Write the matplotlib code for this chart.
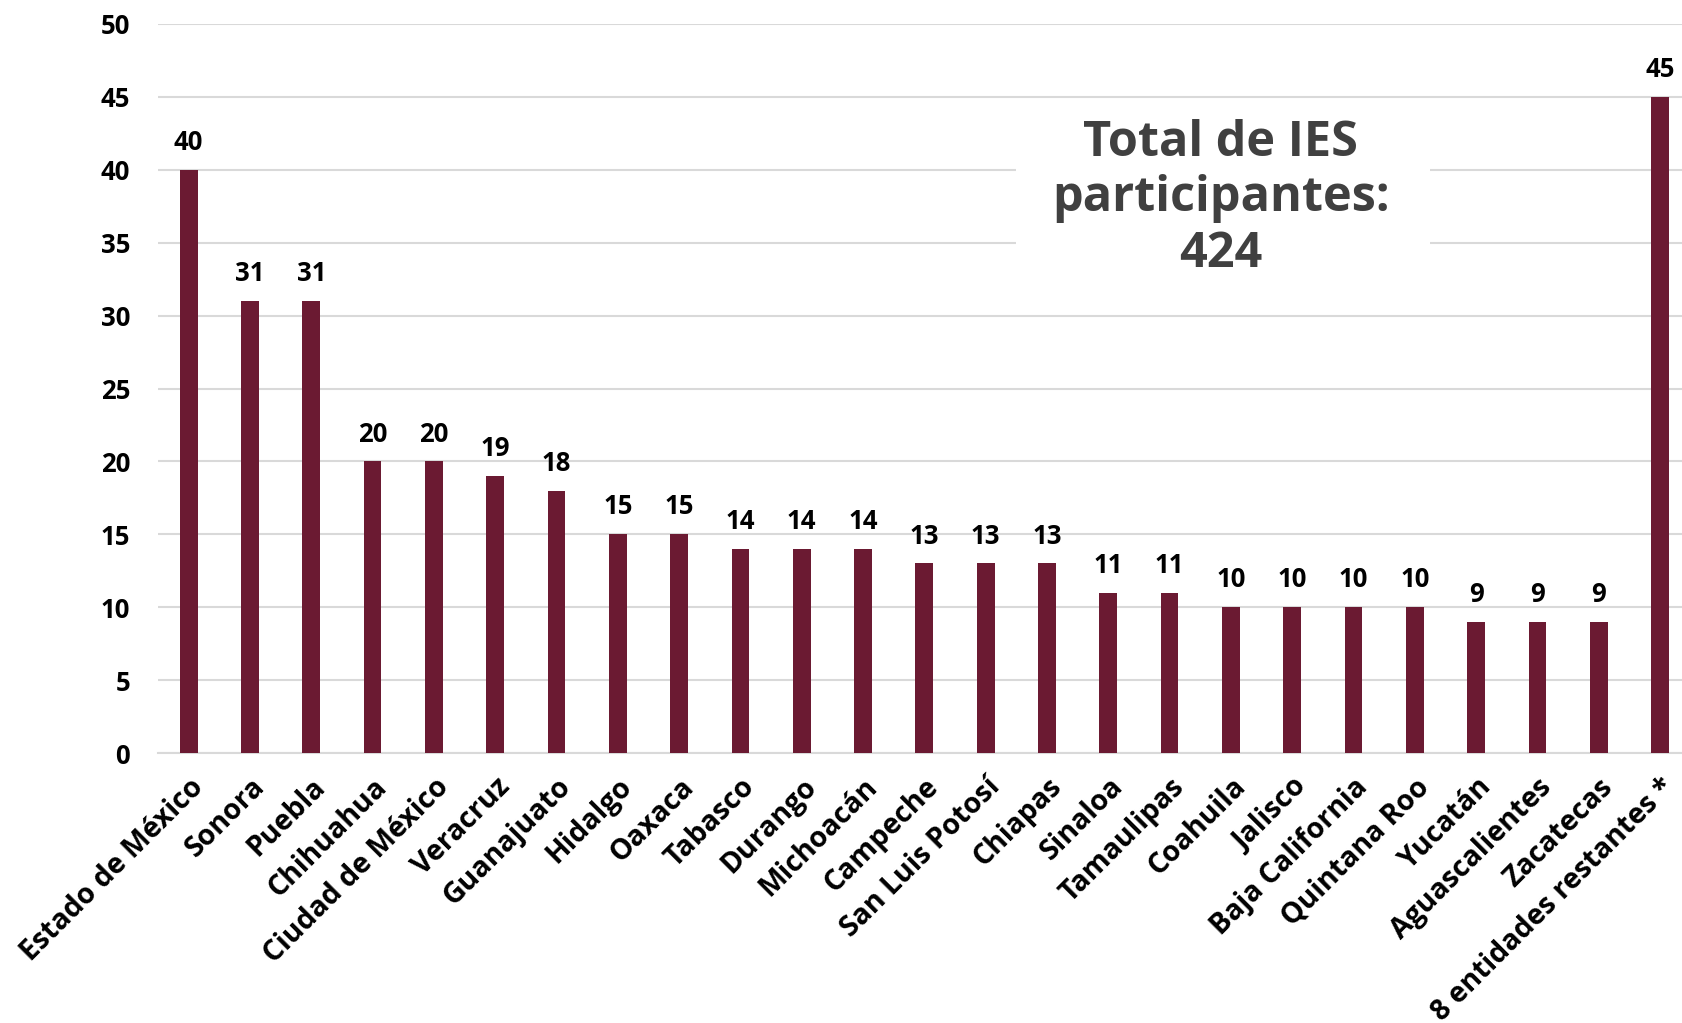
import matplotlib
matplotlib.use("Agg")
import matplotlib.pyplot as plt
from matplotlib.patches import Rectangle

estados = ["Estado de México", "Sonora", "Puebla", "Chihuahua", "Ciudad de México",
           "Veracruz", "Guanajuato", "Hidalgo", "Oaxaca", "Tabasco", "Durango",
           "Michoacán", "Campeche", "San Luis Potosí", "Chiapas", "Sinaloa",
           "Tamaulipas", "Coahuila", "Jalisco", "Baja California", "Quintana Roo",
           "Yucatán", "Aguascalientes", "Zacatecas", "8 entidades restantes *"]
valores = [40, 31, 31, 20, 20, 19, 18, 15, 15, 14, 14, 14, 13, 13, 13, 11, 11,
           10, 10, 10, 10, 9, 9, 9, 45]
yticks = [0, 5, 10, 15, 20, 25, 30, 35, 40, 45, 50]
total_text = "Total de IES\nparticipantes:\n424"

plt.rcParams['font.family'] = ['Open Sans', 'DejaVu Sans']

fig = plt.figure(figsize=(16.83, 10.23), dpi=100)
ax = fig.add_axes([158/1683, 270/1023, 1 - 158/1683, 729/1023])

x = list(range(len(estados)))
ax.bar(x, valores, width=0.29, color="#6B1A32", zorder=3)
for xi, v in zip(x, valores):
    ax.annotate(str(v), (xi, v), xytext=(0, 10), textcoords="offset points",
                ha="center", va="bottom", fontsize=18.5, fontweight="bold",
                color="black", zorder=4)

ax.set_ylim(0, 50)
ax.set_xlim(-0.5, 24.375)
ax.set_yticks(yticks)
ax.set_yticklabels([str(t) for t in yticks], fontsize=18.5, fontweight="bold")
ax.set_xticks(x)
ax.set_xticklabels(estados, rotation=45, ha="right", rotation_mode="anchor",
                   fontsize=20.5, fontweight="bold")
ax.tick_params(axis="y", length=0, pad=20)
ax.tick_params(axis="x", length=0, pad=14)
ax.yaxis.grid(True, color="#d9d9d9", linewidth=1.5, zorder=0)
ax.set_axisbelow(True)
for s in ["top", "right", "left"]:
    ax.spines[s].set_visible(False)
ax.spines["bottom"].set_color("#d9d9d9")
ax.spines["bottom"].set_linewidth(1.5)

ax.add_patch(Rectangle((0.5626, 0.621), 0.834 - 0.5626, 0.889 - 0.621,
                       transform=ax.transAxes, facecolor="white",
                       edgecolor="none", zorder=2))
ax.text(0.697, 0.760, total_text, transform=ax.transAxes, ha="center",
        va="center", multialignment="center", fontsize=35, fontweight="bold",
        color="#404040", linespacing=1.18, zorder=5)

fig.savefig("out.png", dpi=100)
